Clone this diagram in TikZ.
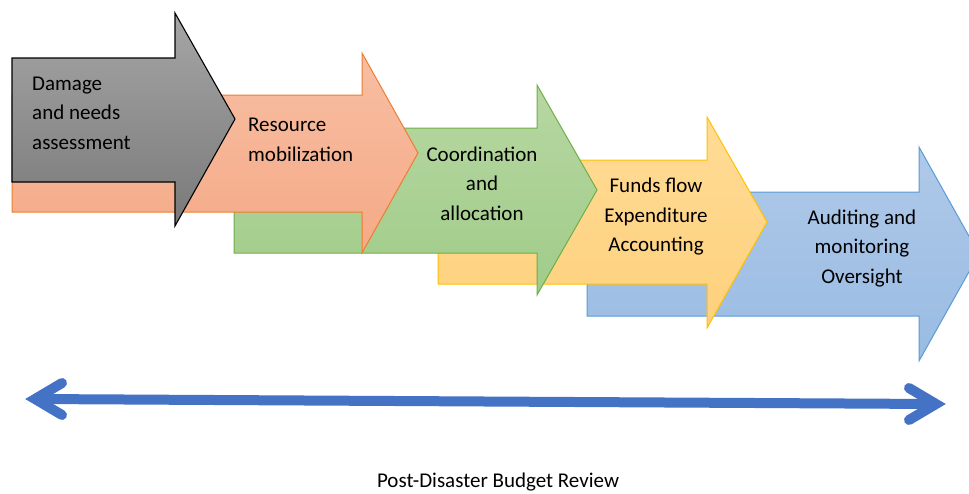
\documentclass[tikz,border=0pt]{standalone}
\usepackage{fontspec}
\setmainfont{Carlito}
\begin{document}
\begin{tikzpicture}[x=1pt,y=-1pt,
  lbl/.style={inner sep=0pt, font=\fontsize{21}{29.5}\selectfont, text=black},
  grayarrow/.style={draw=black, line width=1.1pt, top color=gray!70, bottom color=gray!95!black},
  salmonarrow/.style={draw={rgb,255:red,237;green,125;blue,49}, line width=1pt, top color={rgb,255:red,248;green,190;blue,163}, bottom color={rgb,255:red,244;green,170;blue,134}},
  greenarrow/.style={draw={rgb,255:red,112;green,173;blue,71}, line width=1pt, top color={rgb,255:red,183;green,215;blue,162}, bottom color={rgb,255:red,160;green,204;blue,137}},
  yellowarrow/.style={draw={rgb,255:red,255;green,192;blue,0}, line width=1pt, top color={rgb,255:red,255;green,220;blue,150}, bottom color={rgb,255:red,254;green,208;blue,124}},
  bluearrow/.style={draw={rgb,255:red,91;green,155;blue,213}, line width=1pt, top color={rgb,255:red,175;green,201;blue,232}, bottom color={rgb,255:red,153;green,187;blue,227}},
  spanline/.style={draw={rgb,255:red,68;green,114;blue,196}, line width=10pt, line cap=round, line join=round}
]
\useasboundingbox (0,0) rectangle (969,493);
\clip (0,0) rectangle (969,493);
% #1 style, #2 xl, #3 yt, #4 yb, #5 xh, #6 ht, #7 hb, #8 xt, #9 ym
\newcommand{\fatarrow}[9]{%
  \path[#1] (#2,#3) -- (#5,#3) -- (#5,#6) -- (#8,#9) -- (#5,#7) -- (#5,#4) -- (#2,#4) -- cycle;}
\fatarrow{bluearrow}{587}{192}{316}{919}{147}{361}{979}{254}
\fatarrow{yellowarrow}{438}{160}{284}{707}{117}{328}{767}{222}
\fatarrow{greenarrow}{234}{128}{253}{537}{85}{295}{597}{190}
\fatarrow{salmonarrow}{12}{95}{212}{362}{53}{253}{418}{153}
\fatarrow{grayarrow}{12}{58}{182}{175}{13}{226}{235}{119}

\node[lbl, anchor=west, align=left] (t1) at (32,113) {Damage\\and needs\\assessment};
\node[lbl, anchor=west, align=left] (t2) at (248,140) {Resource\\mobilization};
\node[lbl, align=center] (t3) at (482,183.5) {Coordination\\and\\allocation};
\node[lbl, align=center] (t4) at (656,217) {Funds flow\\Expenditure\\Accounting};
\node[lbl, align=center] (t5) at (862,248.5) {Auditing and\\monitoring\\Oversight};

% double-headed span arrow
\coordinate (L) at (35,399);
\coordinate (R) at (936,404);
\coordinate (La) at (62,383);
\coordinate (Lb) at (62,415);
\coordinate (Ra) at (909,388);
\coordinate (Rb) at (909,420);
\draw[spanline, line cap=butt] (L) -- (R);
\draw[spanline, line join=miter] (La) -- (L) -- (Lb);
\draw[spanline, line join=miter] (Ra) -- (R) -- (Rb);

\node[inner sep=0pt, font=\fontsize{21}{25}\selectfont] (cap) at (498,482.5) {Post-Disaster Budget Review};
\end{tikzpicture}
\end{document}
